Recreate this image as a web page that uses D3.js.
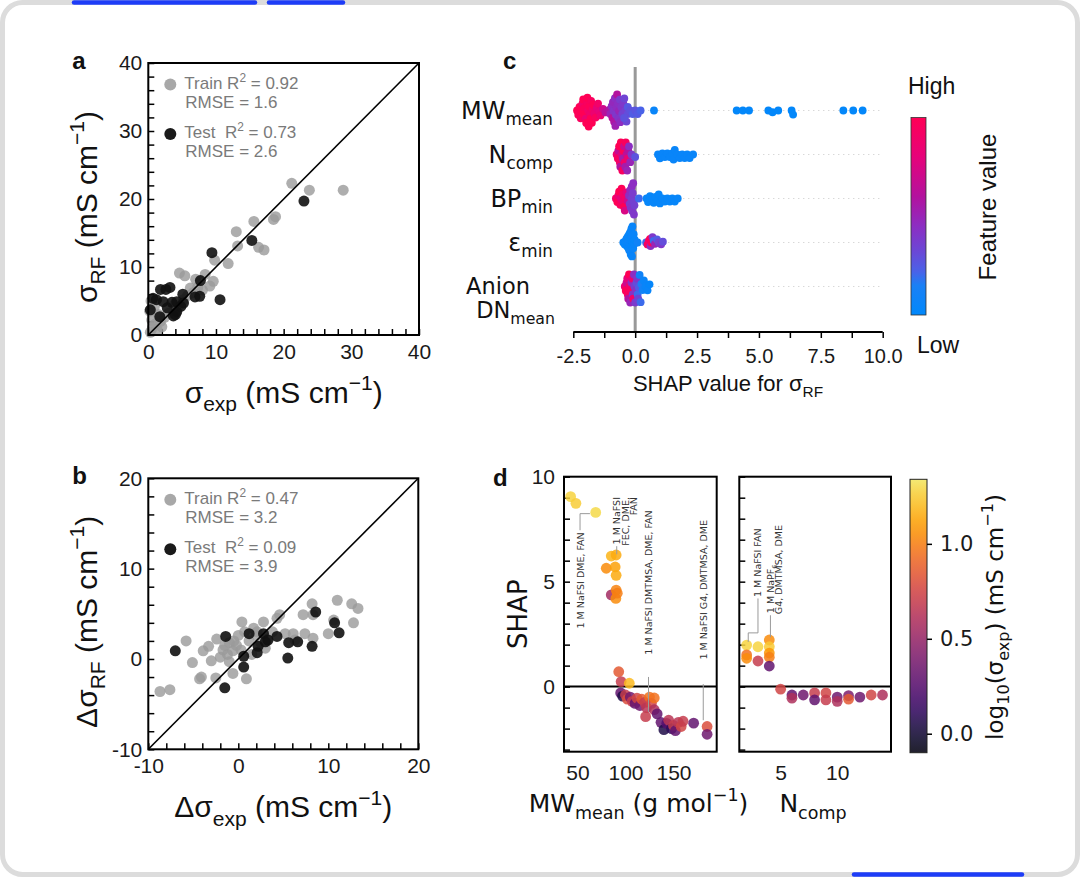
<!DOCTYPE html>
<html>
<head>
<meta charset="utf-8">
<script src="https://cdn.jsdelivr.net/npm/d3@7"></script>
<style>
  body { margin: 0; background: #fff; }
  svg { display: block; }
</style>
</head>
<body>
<div id="chart"></div>
<script>
// ---- panel a : predicted vs experimental conductivity ----
const aTrainX = [21.2, 23.8, 28.8, 18.5, 18.8, 15.6, 13.0, 13.2, 16.3, 17.1, 11.8, 9.8, 4.6, 5.4, 8.4, 7.0, 9.6, 9.1, 6.2,
  0.3, 0.6, 1.0, 1.3, 0.5, 1.8, 2.4, 0.2, 0.9, 3.0, 3.8, 4.4, 5.2, 5.8, 6.6, 7.3, 8.0, 2.0, 1.5, 0.4];
const aTrainY = [22.3, 21.3, 21.3, 17.0, 17.4, 16.7, 15.2, 13.1, 12.9, 12.5, 10.5, 11.0, 9.1, 8.7, 8.9, 8.2, 7.9, 7.2, 6.9,
  0.4, 1.0, 1.6, 0.8, 2.2, 2.0, 2.6, 3.5, 4.2, 3.2, 4.4, 4.0, 5.2, 5.8, 6.2, 7.0, 6.6, 1.2, 3.0, 5.0];
const aTestX = [23.0, 15.3, 9.4, 7.7, 10.6, 1.8, 2.6, 3.2, 0.7, 5.1, 6.9, 7.6, 2.2, 3.5, 4.2, 5.2, 1.7, 3.7, 4.2, 4.0, 0.3, 1.2, 2.8, 4.8];
const aTestY = [19.7, 13.9, 12.1, 8.0, 5.2, 6.7, 6.7, 7.0, 5.4, 6.0, 5.6, 5.7, 4.9, 4.8, 4.9, 4.7, 2.7, 2.8, 3.4, 3.0, 3.7, 5.2, 4.0, 4.2];
const aStats = ["0.92", "1.6", "0.73", "2.6"];

// ---- panel b : change in conductivity ----
const bTrainX = [-8.7, -7.6, -5.8, -5.1, -4.1, -4.3, -3.9, -3.3, -3.0, -2.4, -2.5, -1.7, -1.2, -1.0, -0.6, -0.2, 0.0, -0.5, -1.5, -2.0,
  0.4, 0.7, -0.6, 0.9, 2.8, 1.7, 2.1, 3.2, 3.0, 4.3, 4.6, 5.2, 6.1, 6.3, 7.4, 7.2, 8.2, 8.3, 8.3, 10.0, 10.6, 11.0, 12.8, 12.6, 13.3,
  1.5, 2.5, 3.8, 0.3, -1.0, 1.2, 2.0];
const bTrainY = [-3.6, -3.4, 2.0, -0.4, -2.0, -2.2, 0.9, 1.4, -0.2, 2.2, -2.1, 1.0, 0.5, 1.8, 0.9, 1.5, 2.6, 2.0, 1.5, 0.2,
  4.1, 3.0, -1.6, -2.2, 4.1, 3.4, 3.0, 2.2, 1.2, 4.5, 4.9, 2.8, 2.8, 2.1, 2.8, 4.9, 6.1, 4.9, 2.3, 2.8, 4.3, 6.5, 4.0, 6.1, 5.6,
  0.5, 1.8, 3.0, 1.0, -0.3, 2.0, 2.6];
const bTestX = [-7.0, -1.4, -1.5, 0.6, 0.6, 1.2, 2.1, 2.2, 2.8, 3.0, 3.3, 4.3, 5.6, 6.6, 5.5, 8.2, 8.6, 10.7, 11.2];
const bTestY = [0.9, 2.5, -3.2, 0.3, -0.9, 2.8, 0.7, 1.4, 2.8, 1.9, 2.1, 2.5, 1.8, 1.9, 0.1, 1.4, 5.2, 4.0, 2.9];
const bStats = ["0.47", "3.2", "0.09", "3.9"];

// ---- panel c : SHAP summary (value, normalised feature value) ----
const mwShap = [-2.35, -2.3, -2.25, -2.2, -2.17, -2.13, -2.1, -2.06, -2.03, -2.0, -1.98, -1.95, -1.93, -1.9, -1.88, -1.86, -1.83, -1.8, -1.78, -1.75,
  -1.72, -1.69, -1.65, -1.6, -1.55, -1.5, -1.45, -1.4, -1.3, -1.2,
  -1.05, -1.0, -0.95, -0.92, -0.9, -0.87, -0.85, -0.82, -0.8, -0.78, -0.76, -0.73, -0.7, -0.68, -0.65, -0.62, -0.6, -0.56, -0.52, -0.48,
  -0.44, -0.4, -0.35, -0.3, -0.45, -0.3, -0.2, -0.1, 0.0, 0.1, 0.22,
  0.76, 4.1, 4.35, 4.6, 5.38, 5.55, 5.78, 6.32, 6.38, 8.41, 8.81, 9.19];
const mwFeat = [1, 0.98, 1, 0.95, 1, 0.9, 1, 0.97, 1, 0.85, 1, 0.95, 1, 0.9, 1, 0.98, 0.88, 1, 0.95, 1,
  0.9, 1, 0.85, 0.95, 0.8, 0.9, 0.8, 0.85, 0.7, 0.62,
  0.58, 0.5, 0.45, 0.62, 0.48, 0.42, 0.58, 0.45, 0.52, 0.4, 0.46, 0.6, 0.45, 0.42, 0.5, 0.38, 0.46, 0.42, 0.36, 0.4,
  0.34, 0.36, 0.32, 0.3, 0.28, 0.26, 0.28, 0.24, 0.27, 0.25, 0.22,
  0.05, 0.02, 0.02, 0.02, 0.02, 0.02, 0.02, 0.02, 0.02, 0.02, 0.02, 0.02];
const ncShap = [-0.75, -0.7, -0.68, -0.65, -0.62, -0.6, -0.58, -0.55, -0.52, -0.5, -0.48, -0.45, -0.42, -0.4, -0.38, -0.35, -0.32, -0.3, -0.28, -0.25,
  -0.2, -0.15, 0.0,
  0.92, 1.0, 1.1, 1.2, 1.3, 1.4, 1.5, 1.55, 1.6, 1.7, 1.8, 1.9, 2.0, 2.1, 2.2, 2.34];
const ncFeat = [0.85, 0.95, 0.65, 1, 0.9, 0.6, 1, 0.75, 0.95, 0.55, 1, 0.7, 0.9, 0.55, 0.95, 0.65, 0.5, 0.85, 0.6, 0.45,
  0.5, 0.4, 0.28,
  0.05, 0.05, 0.05, 0.05, 0.05, 0.05, 0.05, 0.05, 0.05, 0.05, 0.05, 0.05, 0.05, 0.05, 0.05, 0.05];
const bpShap = [-0.78, -0.72, -0.68, -0.65, -0.6, -0.58, -0.55, -0.5, -0.48, -0.45, -0.42, -0.4, -0.35, -0.3,
  -0.25, -0.22, -0.2, -0.18, -0.15, -0.14, -0.12, -0.1, -0.08, -0.06, -0.05, -0.03, 0.15,
  0.46, 0.52, 0.6, 0.68, 0.75, 0.82, 0.9, 0.95, 1.0, 1.1, 1.2, 1.3, 1.4, 1.5, 1.6, 1.72];
const bpFeat = [0.9, 1, 0.85, 1, 0.95, 0.8, 1, 0.9, 0.85, 1, 0.75, 0.9, 0.8, 0.7,
  0.45, 0.4, 0.46, 0.42, 0.38, 0.45, 0.4, 0.38, 0.45, 0.36, 0.4, 0.36, 0.2,
  0.04, 0.04, 0.04, 0.04, 0.04, 0.04, 0.04, 0.04, 0.04, 0.04, 0.04, 0.04, 0.04, 0.04, 0.04, 0.04];
const epShap = [-0.48, -0.42, -0.38, -0.35, -0.33, -0.3, -0.28, -0.27, -0.25, -0.24, -0.22, -0.21, -0.2, -0.19, -0.18, -0.17, -0.16, -0.15, -0.14, -0.13,
  -0.12, -0.11, -0.1, -0.08, -0.06, -0.04, -0.02, 0.1,
  0.44, 0.5, 0.55, 0.6, 0.62, 0.65, 0.7, 0.75, 0.8, 0.88, 0.95, 1.05, 1.12];
const epFeat = [0.05, 0.04, 0.06, 0.05, 0.03, 0.05, 0.07, 0.05, 0.04, 0.06, 0.05, 0.03, 0.05, 0.08, 0.05, 0.04, 0.06, 0.05, 0.03, 0.05,
  0.07, 0.05, 0.04, 0.06, 0.05, 0.05, 0.04, 0.1,
  0.2, 0.95, 0.9, 1.0, 0.45, 0.95, 0.4, 0.2, 0.5, 0.25, 0.35, 0.4, 0.3];
const dnShap = [-0.42, -0.38, -0.35, -0.32, -0.3, -0.28, -0.25, -0.22, -0.2, -0.18, -0.15, -0.12, -0.1, -0.08, -0.05, -0.03,
  0.0, 0.02, 0.05, 0.08, 0.1, 0.12, 0.15, 0.18, 0.22, 0.25, 0.3, 0.35, 0.42, 0.5, 0.58];
const dnFeat = [0.85, 1.0, 0.7, 0.8, 0.95, 0.6, 1.0, 0.9, 0.5, 0.95, 0.45, 0.85, 0.42, 0.9, 0.45, 0.38,
  0.38, 0.42, 0.3, 0.4, 0.2, 0.33, 0.25, 0.1, 0.2, 0.15, 0.1, 0.05, 0.05, 0.05, 0.03];
const cTicks = [-2.5, -1.25, 0, 1.25, 2.5, 3.75, 5, 6.25, 7.5, 8.75, 10];
// feature-value colour map, low (0) to high (1)
const featStops = [0, 0.15, 0.22, 0.32, 0.45, 0.6, 0.8, 1];
const featColors = ["#0088fb", "#1a80f5", "#4a62e8", "#6a48d6", "#8c2ec2", "#b3129e", "#e6037a", "#ff0055"];

// ---- panel d : dependence plots (x, SHAP, log10 sigma_exp) ----
const dMwX = [42.9, 48.4, 69, 85.2, 90.3, 80, 89.3, 90.3, 85.2, 90.3, 90, 91.5,
  93, 95.5, 104, 95, 97, 100, 102, 105, 107, 110, 112, 115, 117, 120, 122, 125, 127, 121, 130, 130, 133,
  137, 140, 143, 145, 148, 150, 152, 155, 158, 160, 171, 185, 185];
const dMwY = [9.05, 8.73, 8.3, 6.22, 6.27, 5.64, 5.7, 5.3, 4.37, 4.6, 4.2, 4.45,
  0.71, 0.24, 0.16, -0.3, -0.45, -0.4, -0.6, -0.5, -0.7, -0.8, -0.55, -0.9, -0.6, -0.75, -1.0, -0.5, -0.8, -1.43, -0.54, -1.1, -1.3,
  -1.7, -2.05, -1.75, -1.6, -2.0, -1.85, -2.1, -1.7, -1.9, -1.65, -1.74, -1.9, -2.27];
const dMwC = [1.28, 1.26, 1.3, 1.18, 1.15, 1.05, 1.12, 1.15, 0.55, 1.02, 1.05, 1.0,
  0.85, 0.7, 1.2, 0.3, 0.05, 0.7, 0.8, 0.35, 0.7, 0.3, 0.75, 0.35, 0.85, 0.7, 0.65, 0.95, 0.75, 0.7, 0.95, 0.6, 0.3,
  0.3, 0.05, 0.25, 0.65, 0.1, 0.7, 0.3, 0.65, 0.75, 0.7, 0.3, 0.8, 0.35];
const dNcX = [2, 2, 2, 3, 3, 4, 4, 4, 4, 4, 5, 6, 6, 7, 8, 8, 9, 9, 10, 10, 11, 11, 12, 13, 14];
const dNcY = [1.98, 1.51, 1.35, 1.9, 1.22, 2.22, 1.9, 1.6, 1.4, 0.98, -0.12, -0.4, -0.55, -0.4, -0.3, -0.63, -0.3, -0.63, -0.5, -0.7, -0.43, -0.6, -0.5, -0.4, -0.4];
const dNcC = [1.28, 0.95, 1.05, 1.28, 0.7, 1.05, 1.25, 1.08, 1.0, 0.3, 0.75, 0.3, 0.6, 0.35, 0.7, 0.3, 0.75, 0.7, 0.35, 0.6, 0.4, 0.85, 0.35, 0.75, 0.6];
const dCbTicks = [0.0, 0.5, 1.0];

const SANS = "'Liberation Sans', Arial, sans-serif";
const DEJA = "'DejaVu Sans', sans-serif";

const svg = d3.select("#chart").append("svg")
  .attr("width", 1080)
  .attr("height", 877);

// page frame
svg.append("rect")
  .attr("x", 2.5).attr("y", 2.5).attr("width", 1075).attr("height", 872).attr("rx", 20)
  .attr("fill", "none").attr("stroke", "#dcdcdc").attr("stroke-width", 5);
[[74, 255, 2.5], [269, 343, 2.5], [854, 1022, 874.5]].forEach(b => {
  svg.append("line").attr("x1", b[0]).attr("x2", b[1]).attr("y1", b[2]).attr("y2", b[2])
    .attr("stroke", "#1d3cf7").attr("stroke-width", 4.5).attr("stroke-linecap", "round");
});

// text with sub/superscripts
function rich(text, parts, size) {
  let cur = 0;
  parts.forEach(p => {
    const s = typeof p === "string" ? p : p[0];
    const k = typeof p === "string" ? null : p[1];
    const off = k === "sub" ? size * 0.28 : k === "sup" ? -size * 0.42 : 0;
    text.append("tspan")
      .attr("dy", off - cur)
      .attr("font-size", k ? size * 0.7 : size)
      .text(s);
    cur = off;
  });
  return text;
}

function styleAxis(g, size, family) {
  g.select(".domain").remove();
  g.selectAll(".tick line").attr("stroke", "#000").attr("stroke-width", 1.5);
  g.selectAll(".tick text").attr("fill", "#1a1a1a").attr("font-size", size).attr("font-family", family);
}

function panelLetter(x, y, s) {
  svg.append("text").attr("x", x).attr("y", y).attr("font-family", SANS)
    .attr("font-weight", "bold").attr("font-size", 24).attr("fill", "#111").text(s);
}

// ---------- panels a and b ----------
function scatterPanel(o) {
  const g = svg.append("g");
  const x = d3.scaleLinear().domain(o.domain).range([o.left, o.right]);
  const y = d3.scaleLinear().domain(o.domain).range([o.bottom, o.top]);
  const fmt = d => (d % 10 === 0 ? String(d) : "");

  g.append("g").attr("transform", `translate(0,${o.bottom})`)
    .call(d3.axisBottom(x).tickValues(o.ticks).tickSize(-6).tickPadding(9).tickFormat(fmt))
    .call(a => styleAxis(a, 21, SANS));
  g.append("g").attr("transform", `translate(${o.left},0)`)
    .call(d3.axisLeft(y).tickValues(o.ticks).tickSize(-6).tickPadding(6).tickFormat(fmt))
    .call(a => styleAxis(a, 21, SANS));

  g.selectAll(".train").data(o.trainX).enter().append("circle")
    .attr("cx", d => x(d)).attr("cy", (d, i) => y(o.trainY[i])).attr("r", 5.5)
    .attr("fill", "#9a9a9a").attr("fill-opacity", 0.8);
  g.selectAll(".test").data(o.testX).enter().append("circle")
    .attr("cx", d => x(d)).attr("cy", (d, i) => y(o.testY[i])).attr("r", 5.5)
    .attr("fill", "#111").attr("fill-opacity", 0.9);

  g.append("line")
    .attr("x1", x(o.domain[0])).attr("y1", y(o.domain[0]))
    .attr("x2", x(o.domain[1])).attr("y2", y(o.domain[1]))
    .attr("stroke", "#000").attr("stroke-width", 1.6);
  g.append("rect").attr("x", o.left).attr("y", o.top)
    .attr("width", o.right - o.left).attr("height", o.bottom - o.top)
    .attr("fill", "none").attr("stroke", "#000").attr("stroke-width", 2);

  // legend
  const lx = o.left + 22, tx = o.left + 36;
  g.append("circle").attr("cx", lx).attr("cy", o.top + 21.5).attr("r", 6).attr("fill", "#a8a8a8");
  g.append("circle").attr("cx", lx).attr("cy", o.top + 71).attr("r", 6).attr("fill", "#1a1a1a");
  const leg = [["Train\u00a0R", o.top + 26, o.stats[0]], ["Test\u00a0\u00a0R", o.top + 75, o.stats[2]]];
  leg.forEach(l => {
    rich(g.append("text").attr("x", tx).attr("y", l[1]).attr("font-family", SANS).attr("fill", "#7a7a7a"),
      [l[0], ["2", "sup"], " = " + l[2]], 17);
  });
  g.append("text").attr("x", tx + 1).attr("y", o.top + 45).attr("font-family", SANS).attr("font-size", 17)
    .attr("fill", "#7a7a7a").text("RMSE = " + o.stats[1]);
  g.append("text").attr("x", tx + 1).attr("y", o.top + 94).attr("font-family", SANS).attr("font-size", 17)
    .attr("fill", "#7a7a7a").text("RMSE = " + o.stats[3]);

  const mid = (o.left + o.right) / 2;
  rich(g.append("text").attr("x", mid).attr("y", o.bottom + 68).attr("text-anchor", "middle")
    .attr("font-family", SANS).attr("fill", "#111"), o.xLabel, 30);
  rich(g.append("text").attr("text-anchor", "middle").attr("font-family", SANS).attr("fill", "#111")
    .attr("transform", `translate(97,${(o.top + o.bottom) / 2 + 8}) rotate(-90)`), o.yLabel, 30);

  panelLetter(o.left - 76, o.top + 6, o.letter);
}

scatterPanel({
  domain: [0, 40], left: 148.3, right: 419, top: 63, bottom: 335, ticks: d3.range(0, 41, 2),
  trainX: aTrainX, trainY: aTrainY, testX: aTestX, testY: aTestY, stats: aStats, letter: "a",
  xLabel: ["σ", ["exp", "sub"], " (mS cm", ["−1", "sup"], ")"],
  yLabel: ["σ", ["RF", "sub"], " (mS cm", ["−1", "sup"], ")"]
});
scatterPanel({
  domain: [-10, 20], left: 148.3, right: 418.3, top: 478.3, bottom: 749.3, ticks: d3.range(-10, 21, 2),
  trainX: bTrainX, trainY: bTrainY, testX: bTestX, testY: bTestY, stats: bStats, letter: "b",
  xLabel: ["Δσ", ["exp", "sub"], " (mS cm", ["−1", "sup"], ")"],
  yLabel: ["Δσ", ["RF", "sub"], " (mS cm", ["−1", "sup"], ")"]
});

// ---------- panel c ----------
const cRows = [
  { shap: mwShap, feat: mwFeat, label: [["MW"], ["mean", "sub"]] },
  { shap: ncShap, feat: ncFeat, label: [["N"], ["comp", "sub"]] },
  { shap: bpShap, feat: bpFeat, label: [["BP"], ["min", "sub"]] },
  { shap: epShap, feat: epFeat, label: [["ε"], ["min", "sub"]] },
  { shap: dnShap, feat: dnFeat, label: null }
];
const cx = d3.scaleLinear().domain([-2.5, 10]).range([573.3, 882.7]);
const cy = d3.scalePoint().domain(d3.range(cRows.length)).range([110.5, 286.5]);
const featColor = d3.scaleLinear().domain(featStops).range(featColors).interpolate(d3.interpolateRgb);
const gc = svg.append("g");

cRows.forEach((r, i) => {
  gc.append("line").attr("x1", cx(-2.5)).attr("x2", cx(10)).attr("y1", cy(i)).attr("y2", cy(i))
    .attr("stroke", "#c8c8c8").attr("stroke-width", 1).attr("stroke-dasharray", "1,4");
});
gc.append("line").attr("x1", cx(0)).attr("x2", cx(0)).attr("y1", 67).attr("y2", 332)
  .attr("stroke", "#999").attr("stroke-width", 3);

// beeswarm offsets: closest free slot to the row centre, then squeezed to fit
function swarm(vals, D, maxOff) {
  const order = d3.range(vals.length).sort((a, b) => vals[a] - vals[b]);
  const placed = [];
  const off = new Array(vals.length).fill(0);
  order.forEach(i => {
    const px = cx(vals[i]);
    const near = placed.filter(p => Math.abs(p.x - px) < D);
    const cands = [0];
    near.forEach(p => {
      const h = Math.sqrt(D * D - (p.x - px) ** 2);
      cands.push(p.y + h, p.y - h);
    });
    cands.sort((a, b) => Math.abs(a) - Math.abs(b));
    const ok = cands.find(c => near.every(p => (p.x - px) ** 2 + (p.y - c) ** 2 >= D * D - 0.01));
    off[i] = ok;
    placed.push({ x: px, y: ok });
  });
  const m = d3.max(off, Math.abs);
  const k = m > maxOff ? maxOff / m : 1;
  return off.map(v => v * k);
}

cRows.forEach((r, i) => {
  const off = swarm(r.shap, 4.6, 16);
  gc.append("g").selectAll("circle").data(r.shap).enter().append("circle")
    .attr("cx", d => cx(d)).attr("cy", (d, j) => cy(i) + off[j]).attr("r", 3.9)
    .attr("fill", (d, j) => featColor(r.feat[j]));
  if (r.label) {
    rich(gc.append("text").attr("x", 553).attr("y", cy(i) + 8).attr("text-anchor", "end")
      .attr("font-family", DEJA).attr("fill", "#111"), r.label, 24);
  }
});
gc.append("text").attr("x", 530).attr("y", cy(4) + 7).attr("text-anchor", "end")
  .attr("font-family", DEJA).attr("font-size", 22.5).attr("fill", "#111").text("Anion");
rich(gc.append("text").attr("x", 555).attr("y", cy(4) + 31).attr("text-anchor", "end")
  .attr("font-family", DEJA).attr("fill", "#111"), ["DN", ["mean", "sub"]], 22.5);

gc.append("g").attr("transform", "translate(0,332)")
  .call(d3.axisBottom(cx).tickValues(cTicks).tickSize(6).tickPadding(11)
    .tickFormat(d => (Math.abs(d * 2 - Math.round(d * 2)) < 1e-6 && Math.round(d * 2) % 5 === 0 ? d.toFixed(1) : "")))
  .call(a => styleAxis(a, 20, SANS));
gc.append("line").attr("x1", cx(-2.5)).attr("x2", cx(10)).attr("y1", 332).attr("y2", 332)
  .attr("stroke", "#000").attr("stroke-width", 2);
rich(gc.append("text").attr("x", 728).attr("y", 391).attr("text-anchor", "middle")
  .attr("font-family", SANS).attr("fill", "#111"), ["SHAP value for σ", ["RF", "sub"]], 22);

// feature value colour bar
const defs = svg.append("defs");
const gradC = defs.append("linearGradient").attr("id", "gradC").attr("x1", 0).attr("x2", 0).attr("y1", 1).attr("y2", 0);
featStops.forEach((t, i) => gradC.append("stop").attr("offset", t).attr("stop-color", featColors[i]));
gc.append("rect").attr("x", 911).attr("y", 117.5).attr("width", 15).attr("height", 197.5)
  .attr("fill", "url(#gradC)").attr("stroke", "#333").attr("stroke-width", 0.8);
gc.append("text").attr("x", 908).attr("y", 94).attr("font-family", SANS).attr("font-size", 23).attr("fill", "#111").text("High");
gc.append("text").attr("x", 917).attr("y", 353).attr("font-family", SANS).attr("font-size", 23).attr("fill", "#111").text("Low");
gc.append("text").attr("transform", "translate(996,207) rotate(-90)").attr("text-anchor", "middle")
  .attr("font-family", SANS).attr("font-size", 24).attr("fill", "#111").text("Feature value");
panelLetter(503, 69, "c");

// ---------- panel d ----------
const gd = svg.append("g");
const dY = d3.scaleLinear().domain([-3.1, 10]).range([751.7, 476.7]);
const dX1 = d3.scaleLinear().domain([36, 195]).range([564, 716.7]);
const dX2 = d3.scaleLinear().domain([1.35, 14.75]).range([739.3, 891]);
const cbScale = d3.scaleLinear().domain([-0.1, 1.34]).range([0.03, 0.93]).clamp(true);
const sigColor = v => d3.interpolateInferno(cbScale(v));

function depPanel(x, xs, ys, cs, labels, xTicks) {
  const [x0, x1] = x.range();
  gd.append("g").attr("transform", `translate(${x0},0)`)
    .call(d3.axisLeft(dY).tickValues(d3.range(-3, 11, 1)).tickSize(-6).tickPadding(9)
      .tickFormat(d => (labels && d % 5 === 0 ? String(d) : "")))
    .call(a => styleAxis(a, 21, SANS));
  gd.append("g").attr("transform", "translate(0,751.7)")
    .call(d3.axisBottom(x).tickValues(xTicks).tickSize(0).tickPadding(13))
    .call(a => styleAxis(a, 21, SANS));
  gd.append("line").attr("x1", x0).attr("x2", x1).attr("y1", dY(0)).attr("y2", dY(0))
    .attr("stroke", "#000").attr("stroke-width", 2);
  gd.append("g").selectAll("circle").data(xs).enter().append("circle")
    .attr("cx", d => x(d)).attr("cy", (d, i) => dY(ys[i])).attr("r", 5.4)
    .attr("fill", (d, i) => sigColor(cs[i])).attr("fill-opacity", 0.85);
  gd.append("rect").attr("x", x0).attr("y", 476.7).attr("width", x1 - x0).attr("height", 275)
    .attr("fill", "none").attr("stroke", "#000").attr("stroke-width", 2);
}
depPanel(dX1, dMwX, dMwY, dMwC, true, [50, 100, 150]);
depPanel(dX2, dNcX, dNcY, dNcC, false, [5, 10]);

// annotations: leader lines in data coordinates
function leader(x, pts) {
  gd.append("path").attr("d", d3.line()(pts.map(p => [x(p[0]), dY(p[1])])))
    .attr("fill", "none").attr("stroke", "#9a9a9a").attr("stroke-width", 1);
}
function note(x, xv, yv, s, anchor) {
  const t = gd.append("text").attr("text-anchor", anchor).attr("font-family", DEJA).attr("font-size", 9.5)
    .attr("fill", "#333").attr("transform", `translate(${x(xv) + 3.5},${dY(yv)}) rotate(-90)`);
  if (typeof s === "string") t.text(s); else rich(t, s, 9.5);
}
leader(dX1, [[52.7, 7.45], [52.7, 8.24], [63, 8.24]]);
note(dX1, 52.7, 7.35, "1 M NaFSI DME, FAN", "end");
leader(dX1, [[90.9, 6.69], [90.9, 6.3]]);
note(dX1, 90.9, 9.03, "1 M NaFSI", "end");
note(dX1, 99.8, 9.03, "FEC, DME,", "end");
note(dX1, 108.7, 9.03, "FAN", "end");
leader(dX1, [[124, 0.46], [124, -1.2]]);
note(dX1, 124, 8.4, "1 M NaFSI DMTMSA, DME, FAN", "end");
leader(dX1, [[181, 0.12], [181, -1.6]]);
note(dX1, 181, 7.94, "1 M NaFSI G4, DMTMSA, DME", "end");
leader(dX2, [[3.0, 4.2], [3.0, 2.56], [2.14, 2.56], [2.14, 2.13]]);
note(dX2, 3.0, 4.27, "1 M NaFSI FAN", "start");
leader(dX2, [[4.1, 3.4], [4.1, 2.36]]);
note(dX2, 4.1, 3.5, ["1 M NaPF", ["6", "sub"]], "start");
note(dX2, 4.85, 3.45, "G4, DMTMSA, DME", "start");

// axis titles
rich(gd.append("text").attr("text-anchor", "middle").attr("font-family", DEJA).attr("fill", "#111")
  .attr("transform", `translate(527,${dY(3.45)}) rotate(-90)`), ["SHAP"], 26);
rich(gd.append("text").attr("x", 638.5).attr("y", 811.5).attr("text-anchor", "middle")
  .attr("font-family", DEJA).attr("fill", "#111"), ["MW", ["mean", "sub"], " (g mol", ["−1", "sup"], ")"], 25);
rich(gd.append("text").attr("x", 813).attr("y", 811.5).attr("text-anchor", "middle")
  .attr("font-family", DEJA).attr("fill", "#111"), ["N", ["comp", "sub"]], 25);

// conductivity colour bar
const cbY = d3.scaleLinear().domain([-0.1, 1.34]).range([752.7, 479.3]);
const gradD = defs.append("linearGradient").attr("id", "gradD").attr("x1", 0).attr("x2", 0).attr("y1", 1).attr("y2", 0);
d3.range(0, 1.001, 0.05).forEach(t => gradD.append("stop").attr("offset", t)
  .attr("stop-color", d3.interpolateInferno(0.03 + 0.9 * t)));
gd.append("rect").attr("x", 910).attr("y", cbY(1.34)).attr("width", 17).attr("height", cbY(-0.1) - cbY(1.34))
  .attr("fill", "url(#gradD)").attr("fill-opacity", 0.88).attr("stroke", "#222").attr("stroke-width", 1);
gd.append("g").attr("transform", "translate(927,0)")
  .call(d3.axisRight(cbY).tickValues(dCbTicks).tickSize(5).tickPadding(8).tickFormat(d => d.toFixed(1)))
  .call(a => styleAxis(a, 21, DEJA));
rich(gd.append("text").attr("text-anchor", "middle").attr("font-family", DEJA).attr("fill", "#111")
  .attr("transform", "translate(1003,617) rotate(-90)"),
  ["log", ["10", "sub"], "(σ", ["exp", "sub"], ") (mS cm", ["−1", "sup"], ")"], 23);
panelLetter(493, 486, "d");
</script>
</body>
</html>
